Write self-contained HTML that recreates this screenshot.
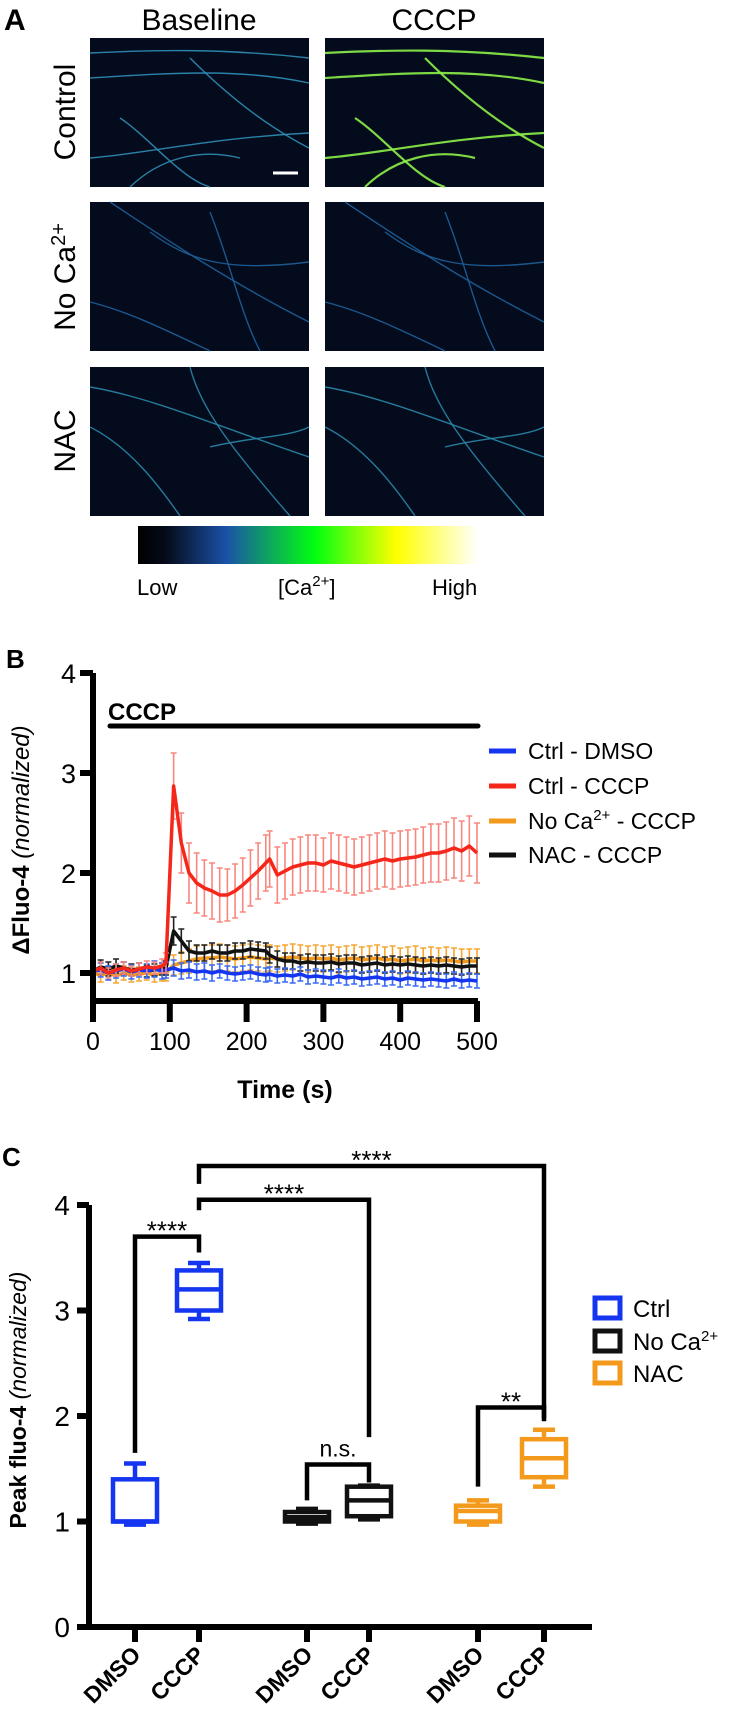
<!DOCTYPE html>
<html><head><meta charset="utf-8">
<style>
html,body{margin:0;padding:0;background:#fff;}
svg{display:block;font-family:"Liberation Sans",Arial,sans-serif;}
</style></head>
<body>
<svg id="fig" width="750" height="1735" viewBox="0 0 750 1735" xmlns="http://www.w3.org/2000/svg">
<defs>
<linearGradient id="cbar" x1="0" x2="1" y1="0" y2="0">
<stop offset="0" stop-color="#000"/><stop offset="0.08" stop-color="#050a18"/>
<stop offset="0.26" stop-color="#1a52a8"/><stop offset="0.52" stop-color="#00ff10"/>
<stop offset="0.76" stop-color="#ffff00"/><stop offset="1" stop-color="#ffffff"/>
</linearGradient>
</defs>
<g>
<text x="4" y="30" font-size="30" font-weight="bold">A</text>
<text x="199" y="30" font-size="30" text-anchor="middle">Baseline</text>
<text x="434" y="30" font-size="30" text-anchor="middle">CCCP</text>
<text transform="translate(75,112) rotate(-90)" font-size="30" text-anchor="middle">Control</text>
<text transform="translate(75,277) rotate(-90)" font-size="30" text-anchor="middle">No Ca<tspan dy="-10" font-size="20">2+</tspan></text>
<text transform="translate(75,441) rotate(-90)" font-size="30" text-anchor="middle">NAC</text>
<g id="imgs"></g>
<rect x="138" y="526" width="340" height="38" fill="url(#cbar)"/>
<text x="137" y="595" font-size="22">Low</text>
<text x="278" y="595" font-size="22">[Ca<tspan dy="-9" font-size="15">2+</tspan><tspan dy="9">]</tspan></text>
<text x="432" y="595" font-size="22">High</text>
</g>
<g>
<text x="6" y="668" font-size="26" font-weight="bold">B</text>
<g id="bplot"></g>
<text transform="translate(29,840) rotate(-90)" font-size="24" text-anchor="middle"><tspan font-weight="bold">ΔFluo-4 </tspan><tspan font-style="italic">(normalized)</tspan></text>
<text x="285" y="1098" font-size="25" font-weight="bold" text-anchor="middle">Time (s)</text>
<text x="108" y="720" font-size="24" font-weight="bold">CCCP</text>
<line x1="110" y1="726" x2="478" y2="726" stroke="#000" stroke-width="5" stroke-linecap="round"/>
<g id="blegend"></g>
</g>
<g>
<text x="2" y="1166" font-size="26" font-weight="bold">C</text>
<g id="cplot"></g>
<text transform="translate(26,1400) rotate(-90)" font-size="23" text-anchor="middle"><tspan font-weight="bold">Peak fluo-4 </tspan><tspan font-style="italic">(normalized)</tspan></text>
</g>
</svg>
<script>
const NS="http://www.w3.org/2000/svg";
function mk(tag,attrs,parent){const e=document.createElementNS(NS,tag);for(const k in attrs)e.setAttribute(k,attrs[k]);parent.appendChild(e);return e;}

const imgs=document.getElementById('imgs');
const cols=[90,325], rows=[38,202,367];
const rowNames=['control','no-ca','nac'];
const strandsBase=[
 [[0,15,60,12,130,10,219,20],[0,40,80,35,150,30,219,45],[30,80,60,100,90,140,120,149],[0,120,60,115,120,100,219,95],[100,20,140,60,180,90,219,110],[40,149,70,120,110,110,150,120]],
 [[20,0,80,40,140,80,219,120],[120,10,140,60,150,110,170,149],[60,30,100,60,140,70,219,60],[0,100,40,110,80,130,120,149]],
 [[0,20,60,30,130,60,219,90],[100,0,110,40,140,80,200,149],[0,60,40,80,70,120,90,149],[120,80,160,70,200,70,219,60]]
];
for(let r=0;r<3;r++)for(let c=0;c<2;c++){
 const x0=cols[c],y0=rows[r];
 const g=mk('g',{},imgs);
 
 
 mk('rect',{x:x0,y:y0,width:219,height:149,fill:'#030b1c'},g);
 const col=(r===0&&c===1)?'#8cf04a':(r===0?'#2f8fb8':(r===2?'#2a86a8':'#1f5f9a'));
 const w=(r===0&&c===1)?2.2:1.4;
 strandsBase[r].forEach(s=>{
  const d='M'+(x0+s[0])+','+(y0+s[1])+' C'+(x0+s[2])+','+(y0+s[3])+' '+(x0+s[4])+','+(y0+s[5])+' '+(x0+s[6])+','+(y0+s[7]);
  mk('path',{d:d,fill:'none',stroke:col,'stroke-width':w,opacity:0.9},g);
 });
}
mk('line',{x1:273,y1:173,x2:298,y2:173,stroke:'#fff','stroke-width':3},imgs);

const bTime=[0,10,20,30,40,50,60,70,80,90,95,105,115,125,135,145,155,165,175,185,195,205,215,225,230,240,250,260,270,280,290,300,310,320,330,340,350,360,370,380,390,400,410,420,430,440,450,460,470,480,490,500];
const redMean=[1.02,1.05,1.0,1.03,1.05,1.02,1.04,1.06,1.05,1.07,1.1,2.87,2.3,2.0,1.9,1.85,1.82,1.78,1.78,1.82,1.88,1.95,2.02,2.1,2.14,1.98,2.02,2.06,2.08,2.1,2.1,2.08,2.12,2.1,2.08,2.06,2.08,2.1,2.12,2.14,2.12,2.14,2.15,2.16,2.18,2.2,2.2,2.22,2.25,2.22,2.27,2.2];
const redErr=[0.06,0.06,0.05,0.06,0.06,0.05,0.06,0.06,0.06,0.07,0.1,0.33,0.3,0.3,0.3,0.28,0.28,0.27,0.26,0.27,0.27,0.28,0.28,0.28,0.28,0.28,0.28,0.28,0.28,0.28,0.28,0.27,0.28,0.28,0.28,0.28,0.28,0.28,0.28,0.28,0.28,0.28,0.28,0.28,0.28,0.29,0.29,0.29,0.3,0.3,0.3,0.3];
const blueMean=[1.02,1.03,1.0,1.02,1.04,1.01,1.03,1.02,1.04,1.02,1.03,1.05,1.02,1.03,1.01,1.02,1.0,1.02,1.0,0.99,1.0,1.01,0.99,0.98,0.99,0.97,0.98,0.97,0.99,0.96,0.97,0.96,0.95,0.97,0.95,0.96,0.94,0.95,0.96,0.94,0.95,0.93,0.95,0.94,0.93,0.94,0.93,0.92,0.94,0.92,0.93,0.92];
const blueErr=[0.07,0.07,0.07,0.07,0.07,0.07,0.07,0.07,0.08,0.08,0.08,0.08,0.08,0.08,0.08,0.08,0.08,0.07,0.07,0.07,0.07,0.07,0.07,0.07,0.07,0.07,0.07,0.07,0.07,0.07,0.07,0.07,0.07,0.07,0.07,0.07,0.07,0.07,0.07,0.07,0.07,0.07,0.07,0.07,0.07,0.07,0.07,0.07,0.07,0.07,0.07,0.07];
const orangeMean=[1.0,0.98,1.0,0.97,1.0,0.98,0.99,1.0,0.98,1.0,1.0,1.08,1.1,1.12,1.14,1.15,1.15,1.16,1.15,1.14,1.15,1.16,1.15,1.14,1.15,1.14,1.15,1.16,1.15,1.14,1.15,1.14,1.15,1.13,1.14,1.15,1.13,1.14,1.15,1.13,1.14,1.12,1.13,1.14,1.12,1.13,1.12,1.13,1.12,1.11,1.12,1.12];
const orangeErr=[0.07,0.07,0.07,0.07,0.07,0.07,0.07,0.07,0.07,0.08,0.08,0.1,0.11,0.12,0.13,0.13,0.13,0.13,0.13,0.13,0.13,0.13,0.13,0.13,0.13,0.13,0.13,0.13,0.13,0.13,0.13,0.13,0.13,0.13,0.13,0.13,0.13,0.13,0.13,0.13,0.13,0.13,0.13,0.13,0.13,0.13,0.13,0.13,0.13,0.13,0.12,0.12];
const blackMean=[1.02,1.06,1.04,1.07,1.05,1.03,1.04,1.02,1.03,1.04,1.05,1.42,1.32,1.22,1.2,1.2,1.22,1.2,1.2,1.22,1.22,1.24,1.23,1.22,1.18,1.14,1.12,1.12,1.1,1.11,1.1,1.1,1.11,1.09,1.1,1.1,1.08,1.09,1.1,1.08,1.09,1.08,1.09,1.08,1.07,1.08,1.07,1.08,1.07,1.06,1.07,1.07];
const blackErr=[0.06,0.07,0.07,0.07,0.06,0.06,0.06,0.06,0.06,0.06,0.07,0.14,0.12,0.1,0.08,0.08,0.08,0.08,0.08,0.08,0.08,0.08,0.08,0.08,0.08,0.08,0.08,0.08,0.08,0.08,0.08,0.08,0.08,0.08,0.08,0.08,0.08,0.08,0.08,0.08,0.08,0.08,0.08,0.08,0.08,0.08,0.08,0.08,0.08,0.08,0.08,0.08];
const bXTicks=[0,100,200,300,400,500];
const bYTicks=[1,2,3,4];
const bSeriesNames=['Ctrl - DMSO','Ctrl - CCCP','No Ca2+ - CCCP','NAC - CCCP'];

const bx=t=>93+0.768*t;
const by=v=>1073-100*v;
const bplot=document.getElementById('bplot');

function drawSeries(name,mean,err,color,errColor){
 const g=mk('g',{},bplot);
 
 
 for(let i=0;i<bTime.length;i++){
  const x=bx(bTime[i]),y1=by(mean[i]+err[i]),y2=by(mean[i]-err[i]);
  const eb=mk('path',{d:`M${x},${y1}V${y2}M${x-3},${y1}H${x+3}M${x-3},${y2}H${x+3}`,stroke:errColor,'stroke-width':1.6,fill:'none'},g);
  
  
 }
 const pts=bTime.map((t,i)=>bx(t)+','+by(mean[i])).join(' ');
 const pl=mk('polyline',{points:pts,fill:'none',stroke:color,'stroke-width':3.5,'stroke-linejoin':'round'},g);
 
 
}
drawSeries('orange-no-ca-cccp',orangeMean,orangeErr,'#f39a1c','#f6a630');
drawSeries('black-nac-cccp',blackMean,blackErr,'#111','#222');
drawSeries('blue-ctrl-dmso',blueMean,blueErr,'#1536f0','#3a6af5');
drawSeries('red-ctrl-cccp',redMean,redErr,'#f5261a','#f7877f');

const bax=mk('path',{d:`M93,${by(4)}V1001H478`,fill:'none',stroke:'#000','stroke-width':6},bplot);


bXTicks.forEach(t=>{
 const tk=mk('line',{x1:bx(t),y1:1001,x2:bx(t),y2:1022,stroke:'#000','stroke-width':6},bplot);
 
 
 const lb=mk('text',{x:bx(t),y:1050,'font-size':25,'text-anchor':'middle'},bplot);
 lb.textContent=t;
 
 
});
bYTicks.forEach(v=>{
 const tk=mk('line',{x1:80,y1:by(v),x2:93,y2:by(v),stroke:'#000','stroke-width':6},bplot);
 
 
 const lb=mk('text',{x:76,y:by(v)+10,'font-size':27,'text-anchor':'end'},bplot);
 lb.textContent=v;
 
 
});
const blegend=document.getElementById('blegend');
const bLegColors=['#1536f0','#f5261a','#f39a1c','#111'];
const bLegY=[751,786,821,855];
bSeriesNames.forEach((n,i)=>{
 const g=mk('g',{},blegend);
 
 
 mk('line',{x1:489,y1:bLegY[i],x2:516,y2:bLegY[i],stroke:bLegColors[i],'stroke-width':5},g);
 const tx=mk('text',{x:528,y:bLegY[i]+8,'font-size':23},g);
 if(n.indexOf('2+')>=0){
  tx.innerHTML='No Ca<tspan dy="-9" font-size="15">2+</tspan><tspan dy="9"> - CCCP</tspan>';
 } else tx.textContent=n;
});

const cCategories=['DMSO','CCCP','DMSO','CCCP','DMSO','CCCP'];
const cGroups=['Ctrl','Ctrl','No Ca','No Ca','NAC','NAC'];
const cWhiskerLow=[0.97,2.92,0.98,1.02,0.97,1.33];
const cQ1=[1.0,3.0,1.0,1.05,1.0,1.42];
const cMedian=[1.0,3.2,1.04,1.2,1.1,1.6];
const cQ3=[1.4,3.38,1.09,1.33,1.15,1.78];
const cWhiskerHigh=[1.55,3.45,1.12,1.34,1.2,1.87];
const cYTicks=[0,1,2,3,4];
const cColors=['#1536f0','#1536f0','#111','#111','#f39a1c','#f39a1c'];
const cXPos=[135,199,307,369,478,544];

const cy=v=>1627-105.5*v;
const cplot=document.getElementById('cplot');
const cax=mk('path',{d:`M89,${cy(4)}V1627H592`,fill:'none',stroke:'#000','stroke-width':6},cplot);


cYTicks.forEach(v=>{
 const tk=mk('line',{x1:77,y1:cy(v),x2:89,y2:cy(v),stroke:'#000','stroke-width':6},cplot);
 
 
 const lb=mk('text',{x:70,y:cy(v)+10,'font-size':28,'text-anchor':'end'},cplot);
 lb.textContent=v;
 
 
});
cCategories.forEach((c,i)=>{
 const x=cXPos[i];
 const tk=mk('line',{x1:x,y1:1627,x2:x,y2:1642,stroke:'#000','stroke-width':6},cplot);
 
 
 const lb=mk('text',{transform:`translate(${x+7},1656) rotate(-45)`,'font-size':23,'font-weight':'bold','text-anchor':'end'},cplot);
 lb.textContent=c;
 
 
 const g=mk('g',{stroke:cColors[i],'stroke-width':4.5,fill:'none'},cplot);
 
 
 const hw=22;
 mk('rect',{x:x-hw,y:cy(cQ3[i]),width:2*hw,height:Math.max(1,cy(cQ1[i])-cy(cQ3[i]))},g);
 mk('line',{x1:x-hw,y1:cy(cMedian[i]),x2:x+hw,y2:cy(cMedian[i])},g);
 mk('line',{x1:x,y1:cy(cQ3[i]),x2:x,y2:cy(cWhiskerHigh[i])},g);
 mk('line',{x1:x,y1:cy(cQ1[i]),x2:x,y2:cy(cWhiskerLow[i])},g);
 mk('line',{x1:x-11,y1:cy(cWhiskerHigh[i]),x2:x+11,y2:cy(cWhiskerHigh[i])},g);
 mk('line',{x1:x-11,y1:cy(cWhiskerLow[i]),x2:x+11,y2:cy(cWhiskerLow[i])},g);
});
const cBrackets=[[0,1,3.7,1.65,3.55,'****'],[1,3,4.05,3.95,1.8,'****'],[1,5,4.37,4.2,1.98,'****'],[2,3,1.54,1.2,1.37,'n.s.'],[4,5,2.08,1.33,1.95,'**']];
cBrackets.forEach(b=>{
 const x1=cXPos[b[0]],x2=cXPos[b[1]];
 const g=mk('g',{},cplot);
 
 
 mk('path',{d:`M${x1},${cy(b[3])}V${cy(b[2])}H${x2}V${cy(b[4])}`,fill:'none',stroke:'#000','stroke-width':4.5},g);
 const isStar=b[5].indexOf('*')>=0;
 const t=mk('text',{x:(x1+x2)/2,y:cy(b[2])-(isStar?-3:8),'font-size':isStar?26:23,'text-anchor':'middle'},g);
 t.textContent=b[5];
});
const cLegNames=['Ctrl','No Ca','NAC'];
const cLegColors=['#1536f0','#111','#f39a1c'];
const cLegY=[1308,1341,1373];
cLegNames.forEach((n,i)=>{
 const g=mk('g',{},cplot);
 
 
 mk('rect',{x:595,y:cLegY[i]-10,width:25,height:20,fill:'none',stroke:cLegColors[i],'stroke-width':5},g);
 const t=mk('text',{x:633,y:cLegY[i]+9,'font-size':24},g);
 if(n==='No Ca') t.innerHTML='No Ca<tspan dy="-9" font-size="15">2+</tspan>'; else t.textContent=n;
});
</script>
</body></html>
